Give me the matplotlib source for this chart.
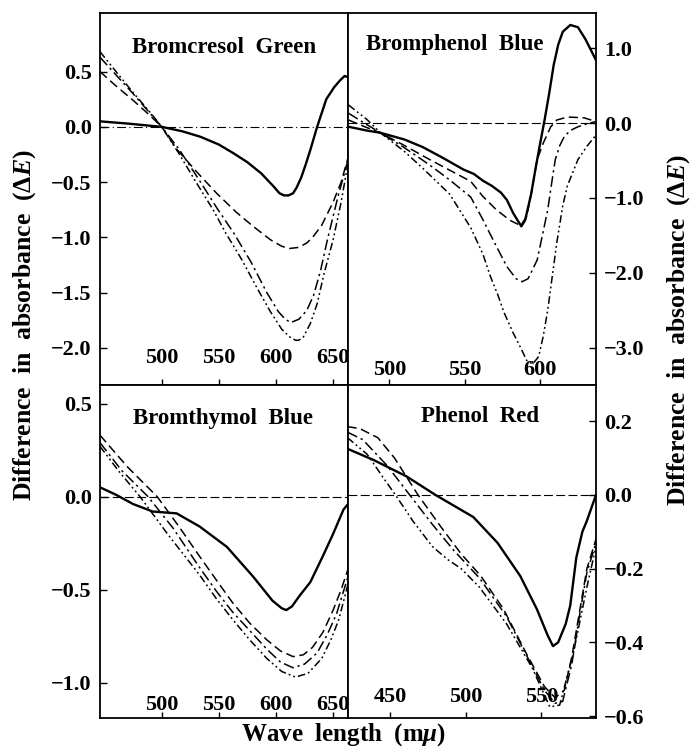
import matplotlib.pyplot as plt

plt.rcParams['font.family'] = 'Liberation Serif'
plt.rcParams['font.weight'] = 'bold'
plt.rcParams['mathtext.fontset'] = 'custom'
plt.rcParams['mathtext.it'] = 'Liberation Serif:italic:bold'
plt.rcParams['mathtext.rm'] = 'Liberation Serif:bold'

# ---- Bromcresol Green ----
bcg_solid_x = [446, 470, 500, 518, 534, 550, 563, 575, 587, 598, 603, 607, 611, 615, 618, 622, 626, 630, 636, 644, 651, 656, 660, 663]
bcg_solid_y = [0.05, 0.03, 0.0, -0.04, -0.09, -0.16, -0.24, -0.32, -0.42, -0.54, -0.6, -0.62, -0.62, -0.6, -0.55, -0.46, -0.34, -0.21, 0.0, 0.25, 0.36, 0.42, 0.46, 0.45]
bcg_dash_x = [446, 460, 475, 490, 500, 513, 530, 548, 565, 580, 595, 605, 612, 620, 627, 632, 640, 650, 657, 663]
bcg_dash_y = [0.5, 0.37, 0.24, 0.1, 0.0, -0.2, -0.4, -0.6, -0.77, -0.9, -1.02, -1.08, -1.1, -1.09, -1.05, -1.0, -0.89, -0.68, -0.5, -0.28]
bcg_dd_x = [446, 460, 475, 490, 500, 515, 534, 548, 563, 578, 592, 602, 608, 613, 620, 627, 633, 639, 645, 654, 663]
bcg_dd_y = [0.63, 0.47, 0.3, 0.12, 0.0, -0.2, -0.5, -0.73, -0.96, -1.22, -1.5, -1.67, -1.74, -1.77, -1.74, -1.66, -1.52, -1.3, -1.02, -0.64, -0.3]
bcg_ddd_x = [446, 460, 475, 490, 500, 515, 530, 545, 556, 570, 583, 595, 605, 612, 617, 620, 624, 630, 636, 642, 650, 657, 663]
bcg_ddd_y = [0.68, 0.5, 0.31, 0.13, 0.0, -0.24, -0.5, -0.75, -0.96, -1.2, -1.45, -1.67, -1.83, -1.9, -1.93, -1.93, -1.9, -1.78, -1.6, -1.33, -1.02, -0.68, -0.33]

# ---- Bromphenol Blue ----
bpb_solid_x = [473, 485, 494, 510, 522, 535, 549, 556, 562, 568, 574, 578, 582, 585, 587.5, 590, 594, 597, 600, 603, 606, 609, 612, 615, 620, 625, 630, 637]
bpb_solid_y = [-0.05, -0.1, -0.13, -0.22, -0.32, -0.46, -0.62, -0.68, -0.77, -0.84, -0.93, -1.03, -1.2, -1.3, -1.38, -1.3, -0.95, -0.6, -0.27, 0.05, 0.4, 0.78, 1.05, 1.22, 1.31, 1.28, 1.12, 0.84]
bpb_dash_x = [473, 485, 494, 510, 526, 540, 554, 562, 571, 580, 587, 591, 594, 598, 602, 607, 611, 618, 629, 637]
bpb_dash_y = [0.04, -0.06, -0.13, -0.3, -0.48, -0.63, -0.78, -0.98, -1.16, -1.3, -1.37, -1.25, -0.95, -0.49, -0.27, -0.05, 0.04, 0.08, 0.07, 0.02]
bpb_dd_x = [473, 485, 494, 510, 526, 540, 554, 562, 571, 578, 584, 588, 592, 598, 602, 605, 608, 610, 613, 616, 620, 625, 631, 637]
bpb_dd_y = [0.13, -0.02, -0.13, -0.33, -0.55, -0.76, -0.99, -1.29, -1.65, -1.92, -2.08, -2.12, -2.08, -1.83, -1.45, -1.16, -0.75, -0.49, -0.3, -0.18, -0.1, -0.05, -0.01, 0.02]
bpb_ddd_x = [473, 485, 494, 510, 523, 540, 554, 562, 567, 572, 576, 582, 587, 591, 595, 599, 602, 605, 608, 611, 615, 618, 625, 631, 637]
bpb_ddd_y = [0.24, 0.05, -0.13, -0.38, -0.62, -0.95, -1.4, -1.75, -2.05, -2.3, -2.53, -2.8, -3.0, -3.17, -3.22, -3.12, -2.85, -2.5, -2.05, -1.6, -1.1, -0.84, -0.49, -0.31, -0.16]

# ---- Bromthymol Blue ----
btb_solid_x = [446, 460, 475, 492, 513, 533, 557, 580, 597, 605, 609, 614, 621, 630, 641, 650, 659, 663]
btb_solid_y = [0.05, 0.01, -0.04, -0.08, -0.09, -0.16, -0.27, -0.43, -0.56, -0.6, -0.61, -0.59, -0.53, -0.46, -0.32, -0.2, -0.07, -0.04]
btb_dash_x = [446, 470, 496, 515, 533, 548, 562, 577, 592, 604, 615, 624, 632, 641, 650, 657, 663]
btb_dash_y = [0.33, 0.16, 0.0, -0.16, -0.32, -0.45, -0.57, -0.68, -0.77, -0.83, -0.86, -0.85, -0.81, -0.73, -0.61, -0.5, -0.39]
btb_dd_x = [446, 465, 488, 510, 533, 548, 562, 577, 592, 604, 615, 625, 636, 645, 653, 658, 663]
btb_dd_y = [0.29, 0.14, 0.0, -0.17, -0.38, -0.51, -0.62, -0.72, -0.82, -0.89, -0.92, -0.9, -0.84, -0.74, -0.63, -0.53, -0.43]
btb_ddd_x = [446, 462, 481, 505, 533, 548, 562, 577, 592, 605, 617, 628, 640, 648, 655, 663]
btb_ddd_y = [0.27, 0.14, 0.0, -0.2, -0.42, -0.55, -0.66, -0.77, -0.87, -0.94, -0.97, -0.95, -0.87, -0.77, -0.66, -0.47]

# ---- Phenol Red ----
pr_solid_x = [422, 439, 461, 480, 505, 521, 536, 547, 554, 557.6, 561, 566, 569, 573, 577, 580, 586]
pr_solid_y = [0.125, 0.095, 0.05, 0.0, -0.06, -0.13, -0.22, -0.31, -0.38, -0.41, -0.4, -0.35, -0.3, -0.17, -0.1, -0.07, 0.0]
pr_dash_x = [422, 430, 442, 453, 468.5, 483.5, 497, 510, 525, 540, 552, 559, 565, 570, 575, 580, 586]
pr_dash_y = [0.185, 0.18, 0.155, 0.1, 0.0, -0.086, -0.16, -0.22, -0.31, -0.43, -0.52, -0.55, -0.53, -0.44, -0.32, -0.2, -0.12]
pr_dd_x = [422, 432, 448, 463, 478, 492, 509, 527, 542, 552, 559, 564, 570, 575, 580, 586]
pr_dd_y = [0.17, 0.15, 0.08, 0.0, -0.08, -0.15, -0.225, -0.33, -0.45, -0.53, -0.565, -0.56, -0.46, -0.33, -0.21, -0.13]
pr_ddd_x = [422, 435, 445, 453.6, 465, 478, 488, 497, 509, 527, 544, 555.5, 562, 571, 580, 586]
pr_ddd_y = [0.155, 0.11, 0.05, 0.0, -0.07, -0.14, -0.175, -0.2, -0.25, -0.35, -0.47, -0.575, -0.57, -0.43, -0.25, -0.14]

panels = [
    ('Bromcresol  Green', (446, 663), (-2.335, 1.03), [500, 550, 600, 650], [0.5, 0.0, -0.5, -1.0, -1.5, -2.0],
     [(bcg_solid_x, bcg_solid_y), (bcg_dash_x, bcg_dash_y), (bcg_dd_x, bcg_dd_y), (bcg_ddd_x, bcg_ddd_y)]),
    ('Bromphenol  Blue', (472.6, 637), (-3.5, 1.47), [500, 550, 600], [1.0, 0.0, -1.0, -2.0, -3.0],
     [(bpb_solid_x, bpb_solid_y), (bpb_dash_x, bpb_dash_y), (bpb_dd_x, bpb_dd_y), (bpb_ddd_x, bpb_ddd_y)]),
    ('Bromthymol  Blue', (446, 663), (-1.19, 0.6), [500, 550, 600, 650], [0.5, 0.0, -0.5, -1.0],
     [(btb_solid_x, btb_solid_y), (btb_dash_x, btb_dash_y), (btb_dd_x, btb_dd_y), (btb_ddd_x, btb_ddd_y)]),
    ('Phenol  Red', (422.3, 586), (-0.605, 0.298), [450, 500, 550], [0.2, 0.0, -0.2, -0.4, -0.6],
     [(pr_solid_x, pr_solid_y), (pr_dash_x, pr_dash_y), (pr_dd_x, pr_dd_y), (pr_ddd_x, pr_ddd_y)]),
]

W, H = 692, 749
fig = plt.figure(figsize=(W / 100, H / 100), dpi=100)
L, M, R = 100 / W, 348 / W, 596 / W
T, C, B = 1 - 13 / H, 1 - 385 / H, 1 - 718 / H
boxes = [[L, C, M - L, T - C], [M, C, R - M, T - C], [L, B, M - L, C - B], [M, B, R - M, C - B]]
title_pos = [(0.5, 0.906), (0.43, 0.914), (0.496, 0.898), (0.532, 0.904)]
xpads = [-26.6, -18, -16.6, -22.3]

styles = [
    dict(color='black', lw=1.7, ls='-'),
    dict(color='black', lw=1.1, dashes=(6, 3)),
    dict(color='black', lw=1.1, dashes=(7, 2.5, 1.5, 2.5)),
    dict(color='black', lw=1.1, dashes=(5, 2, 1.2, 2, 1.2, 2)),
]

for i, (name, xl, yl, xt, yt, curves) in enumerate(panels):
    ax = fig.add_axes(boxes[i])
    ax.axhline(0, color='black', lw=0.8, dashes=(8, 3, 1, 3) if i == 0 else (8, 3))
    for (cx, cy), st in zip(curves, styles):
        ax.plot(cx, cy, **st)
    ax.set_xlim(*xl)
    ax.set_ylim(*yl)
    ax.set_xticks(xt)
    ax.set_yticks(yt)
    ax.set_yticklabels([('%.1f' % v).replace('-', '\u2212') for v in yt])
    ax.tick_params(axis='x', direction='in', length=4, width=1, pad=xpads[i], labelsize=16)
    ax.tick_params(axis='y', direction='in', length=5, width=1, pad=6, labelsize=16)
    if i % 2 == 1:
        ax.yaxis.tick_right()
    for sp in ax.spines.values():
        sp.set_linewidth(1.3)
    ax.text(title_pos[i][0], title_pos[i][1], name, transform=ax.transAxes,
            ha='center', va='center', fontsize=16.5)

ylab = 'Difference  in  absorbance  ($\\mathit{\\Delta E}$)'
fig.text(25 / W, 1 - 325 / H, ylab, rotation=90, ha='center', va='center', fontsize=18.5)
fig.text(679 / W, 1 - 330 / H, ylab, rotation=90, ha='center', va='center', fontsize=18.5)
fig.text(344 / W, 1 - 735 / H, 'Wave  length  (m$\\mathit{\\mu}$)', ha='center', va='center', fontsize=18)

fig.savefig('out.png', dpi=100)
